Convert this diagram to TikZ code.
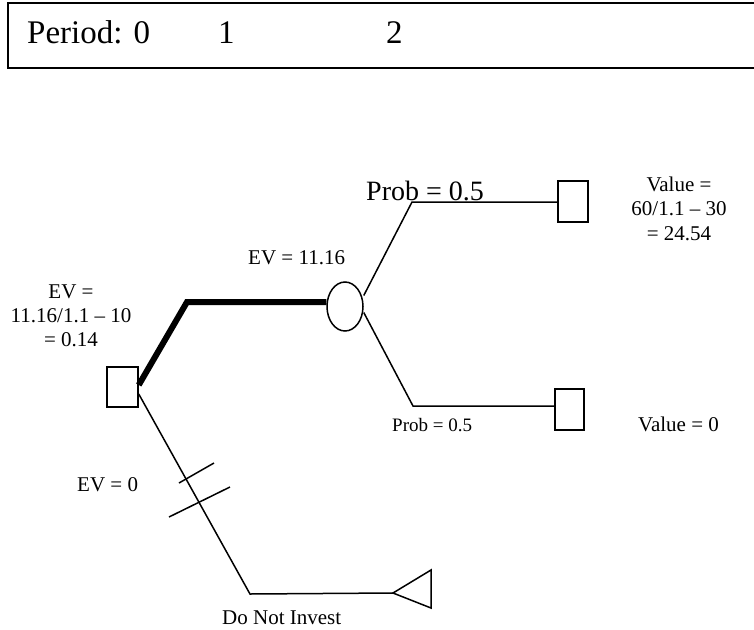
\documentclass[tikz,border=0pt]{standalone}
\usepackage{fontspec}
\setmainfont{Liberation Serif}
\usetikzlibrary{shapes.geometric,calc}
\begin{document}
\begin{tikzpicture}[x=1pt,y=-1pt,
  lw/.style={line width=1.5pt},
  thickbranch/.style={line width=6pt},
  decbox/.style={draw,lw,rectangle,inner sep=0pt},
  chancenode/.style={draw,lw,ellipse,inner sep=0pt,minimum width=36pt,minimum height=49pt},
  lbl/.style={inner sep=0pt,anchor=base,font=\fontsize{21}{24}\selectfont},
  lblw/.style={inner sep=0pt,anchor=base west,font=\fontsize{21}{24}\selectfont}]
\useasboundingbox (0,0) rectangle (754,629);
\clip (0,0) rectangle (754,629);
% period bar
\draw[lw] (770,3) -- (8,3) -- (8,68) -- (770,68);
\node[inner sep=0pt,anchor=base west,font=\fontsize{33}{36}\selectfont] (p0) at (27,43) {Period: 0};
\node[inner sep=0pt,anchor=base west,font=\fontsize{33}{36}\selectfont] (p1) at (218,43) {1};
\node[inner sep=0pt,anchor=base west,font=\fontsize{33}{36}\selectfont] (p2) at (386,43) {2};
% nodes
\node[decbox,minimum width=31pt,minimum height=40pt] (dec) at (122.5,387) {};
\node[chancenode] (chance) at (345,306.5) {};
\node[decbox,minimum width=30pt,minimum height=41pt] (sqa) at (573,201.5) {};
\node[decbox,minimum width=29pt,minimum height=41pt] (sqb) at (569.5,409.5) {};
\coordinate (tri) at (393,593);
\draw[lw,line join=miter] (tri) -- ++(38,-23) -- ++(0,38) -- cycle;
% corners
\coordinate (k1) at (187,302);
\coordinate (c1) at (412,202);
\coordinate (c2) at (413,406);
\coordinate (c3) at (250,594);
% connectors
\draw[thickbranch] ([yshift=2pt]dec.east) -- (k1) -- (k1 -| chance.west);
\draw[lw] ([yshift=11pt]chance.east) -- (c1) -- (c1 -| sqa.west);
\draw[lw] ([yshift=-6pt]chance.east) -- (c2) -- (c2 -| sqb.west);
\draw[lw] ([yshift=-7pt]dec.east) -- (c3) -- (tri);
% hash marks
\draw[lw] (179,483) -- (214,463);
\draw[lw] (169,517) -- (230,487);
% labels
\node[inner sep=0pt,anchor=base west,font=\fontsize{28}{30}\selectfont] (proba) at (366,200) {Prob = 0.5};
\node[lblw] (ev1) at (248,264) {EV = 11.16};
\node[lbl] (ev0a) at (71,298) {EV =};
\node[lbl] (ev0b) at (71,322) {11.16/1.1 – 10};
\node[lbl] (ev0c) at (71,346) {= 0.14};
\node[lbl] (va) at (679,191) {Value =};
\node[lbl] (vb) at (679,215) {60/1.1 – 30};
\node[lbl] (vc) at (679,240) {= 24.54};
\node[inner sep=0pt,anchor=base west,font=\fontsize{19}{22}\selectfont] (probb) at (392,431) {Prob = 0.5};
\node[lblw] (vzero) at (638,431) {Value = 0};
\node[lblw] (evz) at (77,491) {EV = 0};
\node[lblw] (dni) at (222,624) {Do Not Invest};
\end{tikzpicture}
\end{document}
